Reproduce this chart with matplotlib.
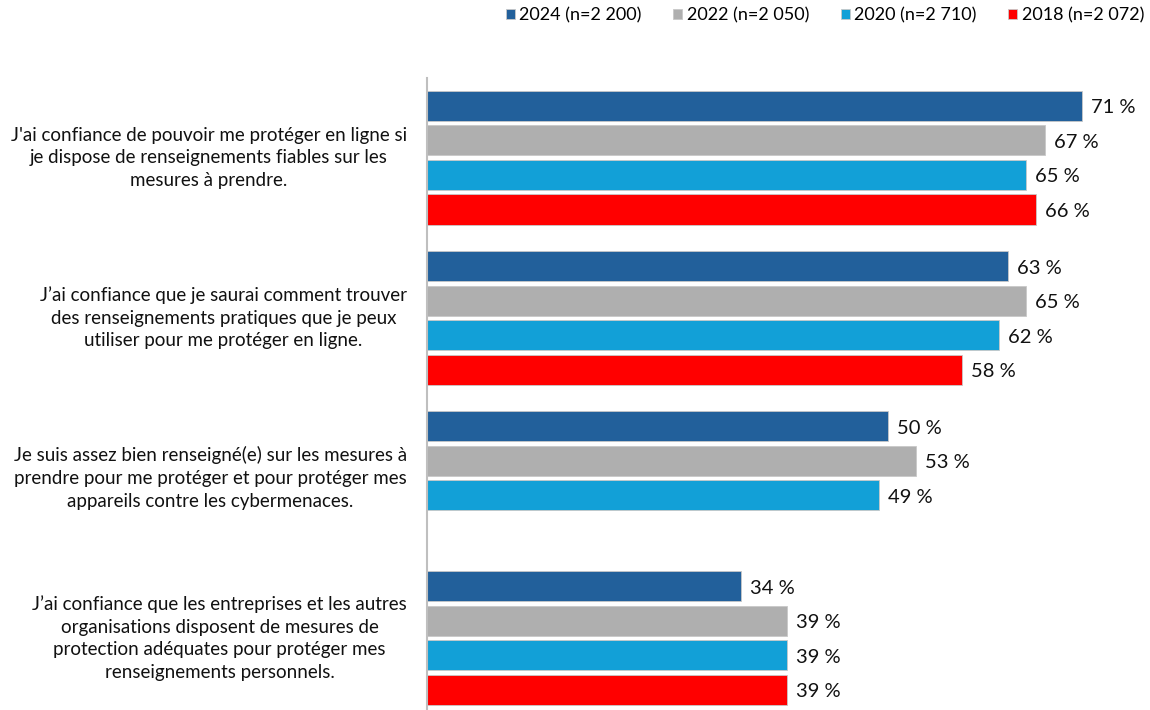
import numpy as np
import matplotlib
matplotlib.use("Agg")
import matplotlib.pyplot as plt

plt.rcParams['font.family'] = ['Lato', 'DejaVu Sans']

categories = [
    "J'ai confiance de pouvoir me protéger en ligne si\nje dispose de renseignements fiables sur les\nmesures à prendre.",
    "J’ai confiance que je saurai comment trouver\ndes renseignements pratiques que je peux\nutiliser pour me protéger en ligne.",
    "Je suis assez bien renseigné(e) sur les mesures à\nprendre pour me protéger et pour protéger mes\nappareils contre les cybermenaces.",
    "J’ai confiance que les entreprises et les autres\norganisations disposent de mesures de\nprotection adéquates pour protéger mes\nrenseignements personnels.",
]
series_labels = ["2024 (n=2 200)", "2022 (n=2 050)", "2020 (n=2 710)", "2018 (n=2 072)"]
values_2024 = [71, 63, 50, 34]
values_2022 = [67, 65, 53, 39]
values_2020 = [65, 62, 49, 39]
values_2018 = [66, 58, None, 39]
series_values = [values_2024, values_2022, values_2020, values_2018]
colors = ["#22609B", "#AFAFAF", "#12A0D7", "#FF0000"]

W, H = 1150, 710
fig = plt.figure(figsize=(W / 100, H / 100), dpi=100)
ax_left, ax_top, ax_bottom = 427, 78, 710
ax = fig.add_axes([ax_left / W, 1 - ax_bottom / H, 1 - ax_left / W, (ax_bottom - ax_top) / H])

group_step = 4.64
bar_h = 0.87
handles = []
for s, (vals, col, lab) in enumerate(zip(series_values, colors, series_labels)):
    ys, xs = [], []
    for g, v in enumerate(vals):
        if v is None:
            continue
        ys.append(g * group_step + s)
        xs.append(v)
    bars = ax.barh(ys, xs, height=bar_h, color=col, edgecolor="#C8C8C8",
                   linewidth=0.6, label=lab)
    handles.append(bars)
    for y, v in zip(ys, xs):
        ax.annotate(f"{v} %", xy=(v, y), xytext=(9, -2), textcoords="offset pixels",
                    va="center", ha="left", fontsize=14.5, color="#111111")

n_groups = len(categories)
ax.set_xlim(0, 78.4)
ax.set_ylim((n_groups - 1) * group_step + 3 + 0.58, -0.81)
for sp in ["top", "right", "bottom"]:
    ax.spines[sp].set_visible(False)
ax.spines["left"].set_color("#BFBFBF")
ax.spines["left"].set_linewidth(1.5)
ax.set_xticks([])
ax.set_yticks([])

for g, cat in enumerate(categories):
    yc = g * group_step + 1.5
    ax.annotate(cat, xy=(0, yc), xycoords=("axes fraction", "data"),
                xytext=(-20, 0), textcoords="offset pixels",
                ha="right", va="center", multialignment="center",
                fontsize=13.5, color="#111111", linespacing=1.4)

fig.legend(handles=handles, labels=series_labels, loc="upper right",
           bbox_to_anchor=(1.006, 1.008), ncol=4, frameon=False, fontsize=13,
           handlelength=0.5, handleheight=0.5, handletextpad=0.25,
           columnspacing=1.75, borderaxespad=0.3)

fig.savefig("out.png", dpi=100, facecolor="white")
